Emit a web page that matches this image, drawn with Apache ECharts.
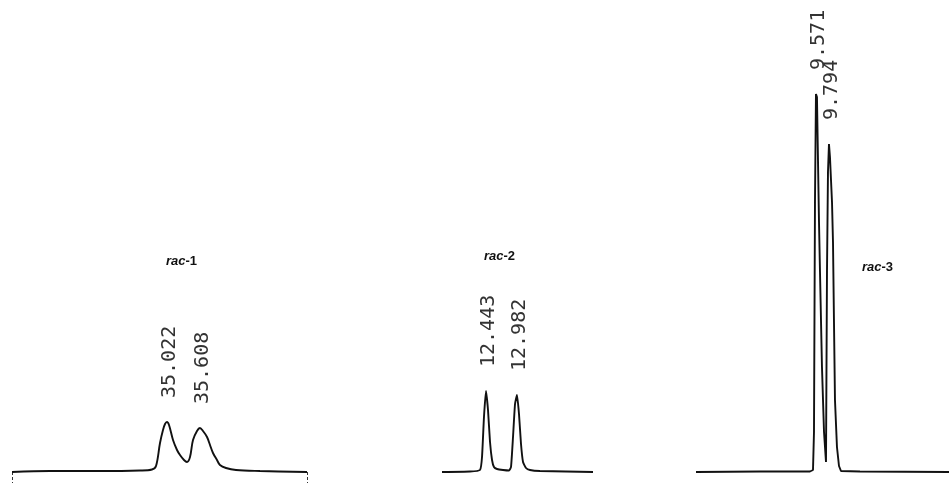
<!DOCTYPE html>
<html><head><meta charset="utf-8">
<script src="https://cdn.jsdelivr.net/npm/echarts@6/dist/echarts.min.js"></script>
<style>html,body{margin:0;padding:0;background:#fff}#c{width:949px;height:483px}</style>
</head><body><div id="c"></div>
<script>
// ---- data (retention time in min, detector signal in arbitrary units) ----
const panelTitles = ['rac-1', 'rac-2', 'rac-3'];

const time1 = [32.270, 32.945, 33.833, 34.544, 34.757, 34.828, 34.899, 34.952, 34.988, 35.022, 35.059, 35.130, 35.201, 35.254, 35.325, 35.378, 35.432, 35.485, 35.556, 35.608, 35.663, 35.734, 35.787, 35.840, 35.911, 35.964, 36.071, 36.249, 36.675, 37.510];
const signal1 = [0, 1, 1, 1.5, 2.5, 6, 29, 42, 48, 50, 47, 32, 22, 17, 12, 10, 15, 32, 41, 44, 41, 35, 27, 19, 12, 7, 4, 2, 1, 0];
const peaks1 = [35.022, 35.608];

const time2 = [11.678, 12.165, 12.339, 12.374, 12.408, 12.443, 12.478, 12.513, 12.548, 12.582, 12.635, 12.739, 12.843, 12.878, 12.913, 12.948, 12.982, 13.017, 13.052, 13.087, 13.139, 13.208, 13.382, 14.304];
const signal2 = [0, 0.5, 2, 15, 55, 81, 62, 30, 12, 5, 3, 2, 1.5, 5, 35, 68, 77, 58, 28, 10, 4, 2, 1, 0];
const peaks2 = [12.443, 12.982];

const time3 = [7.513, 8.611, 9.468, 9.520, 9.537, 9.554, 9.571, 9.588, 9.623, 9.640, 9.674, 9.709, 9.743, 9.760, 9.777, 9.794, 9.811, 9.846, 9.863, 9.880, 9.897, 9.931, 9.966, 10.000, 10.326, 11.853];
const signal3 = [0, 0.5, 0.5, 2, 40, 270, 378, 375, 250, 200, 105, 40, 10, 200, 300, 328, 315, 270, 230, 150, 72, 25, 6, 1, 0.5, 0];
const peaks3 = [9.571, 9.794];

// axis ranges (min, max)
const xRanges = [[32.27, 37.51], [11.678, 14.304], [7.513, 11.853]];

// ---- build ----
const panels = [
  {t: time1, s: signal1, p: peaks1, smooth: 0.35},
  {t: time2, s: signal2, p: peaks2, smooth: 0.15},
  {t: time3, s: signal3, p: peaks3, smooth: 0}
];
const gridBoxes = [
  {left: 12, width: 295},
  {left: 442, width: 151},
  {left: 696, width: 253}
];
const titlePos = [[166, 255], [484, 250], [862, 261]];

const chart = echarts.init(document.getElementById('c'), null, {renderer: 'canvas'});

function buildData(pn) {
  return pn.t.map((t, i) => {
    const item = {value: [t, pn.s[i]]};
    if (pn.p.indexOf(t) >= 0) {
      item.symbol = 'circle';
      item.symbolSize = 0;
      item.label = {
        show: true,
        formatter: t.toFixed(3),
        position: 'top',
        distance: 0,
        rotate: 90,
        align: 'left',
        verticalAlign: 'middle',
        offset: [24, 3],
        fontFamily: 'DejaVu Sans Mono',
        fontSize: 20,
        color: '#333'
      };
    }
    return item;
  });
}

const option = {
  animation: false,
  backgroundColor: '#fff',
  title: panelTitles.map((tt, i) => {
    const parts = tt.split('-');
    return {
      text: '{i|' + parts[0] + '}{n|-' + parts[1] + '}',
      left: titlePos[i][0], top: titlePos[i][1], padding: 0,
      textStyle: {
        rich: {
          i: {fontFamily: 'Liberation Sans', fontStyle: 'italic', fontWeight: 'bold', fontSize: 13, color: '#111'},
          n: {fontFamily: 'Liberation Sans', fontWeight: 'bold', fontSize: 13, color: '#111'}
        }
      }
    };
  }),
  grid: gridBoxes.map(g => ({left: g.left, width: g.width, top: 72, bottom: 11, containLabel: false})),
  xAxis: xRanges.map((r, i) => ({
    type: 'value', gridIndex: i, min: r[0], max: r[1],
    axisLine: {show: false},
    splitLine: {show: false},
    axisLabel: {show: false},
    axisTick: i === 0 ? {show: true, customValues: [r[0], r[1]], length: 11, inside: false,
      lineStyle: {color: '#333', width: 1, type: [3, 2]}} : {show: false}
  })),
  yAxis: xRanges.map((r, i) => ({
    type: 'value', gridIndex: i, min: 0, max: 400,
    show: false, splitLine: {show: false}
  })),
  series: panels.map((pn, i) => ({
    type: 'line', xAxisIndex: i, yAxisIndex: i,
    data: buildData(pn),
    symbol: 'none', showSymbol: true,
    smooth: pn.smooth,
    clip: false,
    lineStyle: {color: '#111', width: 1.9},
    emphasis: {disabled: true}
  }))
};
chart.setOption(option);
</script>
</body></html>
